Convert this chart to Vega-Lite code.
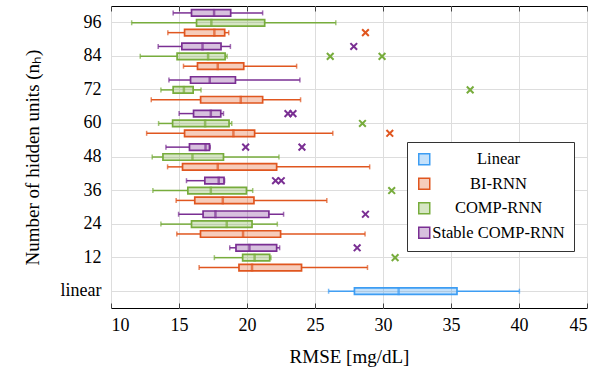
{
  "$schema": "https://vega.github.io/schema/vega-lite/v6.json",
  "autosize": "none",
  "width": 476,
  "height": 302,
  "padding": {"left": 111, "top": 6, "right": 28, "bottom": 67},
  "background": "white",
  "config": {
    "view": {"stroke": "black", "strokeWidth": 1},
    "font": "Liberation Serif",
    "axis": {"labelFont": "Liberation Serif", "titleFont": "Liberation Serif", "labelFontSize": 18, "titleFontSize": 19, "titleFontWeight": "normal", "labelColor": "black", "titleColor": "black", "gridColor": "#dddddd", "gridWidth": 1},
    "legend": {"labelFont": "Liberation Serif", "labelFontSize": 16.5, "labelColor": "black"}
  },
  "datasets": {
    "boxes": [
      {"cat": "96", "model": "Stable COMP-RNN", "slot": "a", "min": 14.57, "q1": 15.92, "median": 17.58, "q3": 18.80, "max": 21.15},
      {"cat": "96", "model": "COMP-RNN", "slot": "b", "min": 11.52, "q1": 16.29, "median": 17.38, "q3": 21.30, "max": 26.53},
      {"cat": "96", "model": "BI-RNN", "slot": "c", "min": 14.18, "q1": 15.41, "median": 17.6, "q3": 18.36, "max": 18.66},
      {"cat": "84", "model": "Stable COMP-RNN", "slot": "a", "min": 13.47, "q1": 15.21, "median": 16.73, "q3": 18.09, "max": 18.78},
      {"cat": "84", "model": "COMP-RNN", "slot": "b", "min": 12.15, "q1": 14.86, "median": 17.14, "q3": 18.39, "max": 18.54},
      {"cat": "84", "model": "BI-RNN", "slot": "c", "min": 15.33, "q1": 16.36, "median": 17.85, "q3": 19.76, "max": 23.65},
      {"cat": "72", "model": "Stable COMP-RNN", "slot": "a", "min": 14.26, "q1": 15.85, "median": 17.26, "q3": 19.15, "max": 23.89},
      {"cat": "72", "model": "COMP-RNN", "slot": "b", "min": 13.67, "q1": 14.57, "median": 15.36, "q3": 16.04, "max": 16.62},
      {"cat": "72", "model": "BI-RNN", "slot": "c", "min": 12.96, "q1": 16.59, "median": 19.54, "q3": 21.15, "max": 23.94},
      {"cat": "60", "model": "Stable COMP-RNN", "slot": "a", "min": 15.01, "q1": 16.07, "median": 17.34, "q3": 18.07, "max": 18.27},
      {"cat": "60", "model": "COMP-RNN", "slot": "b", "min": 13.50, "q1": 14.53, "median": 16.92, "q3": 18.68, "max": 18.88},
      {"cat": "60", "model": "BI-RNN", "slot": "c", "min": 12.62, "q1": 15.41, "median": 19.00, "q3": 20.56, "max": 26.31},
      {"cat": "48", "model": "Stable COMP-RNN", "slot": "a", "min": 14.04, "q1": 15.77, "median": 16.95, "q3": 17.24, "max": 17.30},
      {"cat": "48", "model": "COMP-RNN", "slot": "b", "min": 13.03, "q1": 13.82, "median": 15.99, "q3": 18.27, "max": 22.35},
      {"cat": "48", "model": "BI-RNN", "slot": "c", "min": 14.16, "q1": 15.26, "median": 17.85, "q3": 22.18, "max": 29.02},
      {"cat": "36", "model": "Stable COMP-RNN", "slot": "a", "min": 15.55, "q1": 16.90, "median": 17.92, "q3": 18.31, "max": 18.35},
      {"cat": "36", "model": "COMP-RNN", "slot": "b", "min": 13.08, "q1": 15.65, "median": 17.34, "q3": 19.96, "max": 20.42},
      {"cat": "36", "model": "BI-RNN", "slot": "c", "min": 14.79, "q1": 16.16, "median": 18.22, "q3": 20.51, "max": 25.87},
      {"cat": "24", "model": "Stable COMP-RNN", "slot": "a", "min": 14.97, "q1": 16.77, "median": 17.68, "q3": 21.61, "max": 22.69},
      {"cat": "24", "model": "COMP-RNN", "slot": "b", "min": 13.67, "q1": 15.92, "median": 18.51, "q3": 20.37, "max": 22.23},
      {"cat": "24", "model": "BI-RNN", "slot": "c", "min": 14.84, "q1": 16.58, "median": 19.71, "q3": 22.47, "max": 28.68},
      {"cat": "12", "model": "Stable COMP-RNN", "slot": "a", "min": 18.73, "q1": 19.19, "median": 20.18, "q3": 22.18, "max": 22.40},
      {"cat": "12", "model": "COMP-RNN", "slot": "b", "min": 17.60, "q1": 19.68, "median": 20.56, "q3": 21.67, "max": 21.76},
      {"cat": "12", "model": "BI-RNN", "slot": "c", "min": 16.48, "q1": 19.41, "median": 20.37, "q3": 24.01, "max": 28.86},
      {"cat": "linear", "model": "Linear", "slot": "b", "min": 26.0, "q1": 27.90, "median": 31.15, "q3": 35.44, "max": 40.03}
    ],
    "outliers": [
      {"cat": "96", "model": "BI-RNN", "slot": "c", "value": 28.71},
      {"cat": "84", "model": "Stable COMP-RNN", "slot": "a", "value": 27.85},
      {"cat": "84", "model": "COMP-RNN", "slot": "b", "value": 26.12},
      {"cat": "84", "model": "COMP-RNN", "slot": "b", "value": 29.93},
      {"cat": "72", "model": "COMP-RNN", "slot": "b", "value": 36.41},
      {"cat": "60", "model": "Stable COMP-RNN", "slot": "a", "value": 23.01},
      {"cat": "60", "model": "Stable COMP-RNN", "slot": "a", "value": 23.38},
      {"cat": "60", "model": "COMP-RNN", "slot": "b", "value": 28.49},
      {"cat": "60", "model": "BI-RNN", "slot": "c", "value": 30.50},
      {"cat": "48", "model": "Stable COMP-RNN", "slot": "a", "value": 19.90},
      {"cat": "48", "model": "Stable COMP-RNN", "slot": "a", "value": 24.04},
      {"cat": "36", "model": "Stable COMP-RNN", "slot": "a", "value": 22.10},
      {"cat": "36", "model": "Stable COMP-RNN", "slot": "a", "value": 22.52},
      {"cat": "36", "model": "COMP-RNN", "slot": "b", "value": 30.64},
      {"cat": "24", "model": "Stable COMP-RNN", "slot": "a", "value": 28.71},
      {"cat": "12", "model": "Stable COMP-RNN", "slot": "a", "value": 28.10},
      {"cat": "12", "model": "COMP-RNN", "slot": "b", "value": 30.89}
    ]
  },
  "encoding": {
    "y": {
      "field": "cat", "type": "nominal",
      "scale": {"domain": ["96", "84", "72", "60", "48", "36", "24", "12", "linear"], "paddingInner": 0, "paddingOuter": 0},
      "axis": {"title": "Number of hidden units (nₕ)", "ticks": false, "domain": false, "grid": true, "bandPosition": 0.5, "labelPadding": 10, "titlePadding": 18}
    },
    "yOffset": {
      "field": "slot", "type": "nominal",
      "scale": {"domain": ["a", "b", "c"], "paddingOuter": 0.2, "paddingInner": 0}
    },
    "color": {
      "field": "model", "type": "nominal",
      "scale": {"domain": ["Linear", "BI-RNN", "COMP-RNN", "Stable COMP-RNN"], "range": ["#3d9df3", "#e0561f", "#77ac3c", "#7a2f93"]},
      "legend": {
        "title": null, "orient": "none", "legendX": 296, "legendY": 136,
        "symbolType": "square", "symbolSize": 121, "strokeColor": "#333333", "fillColor": "white",
        "padding": 9, "rowPadding": 6.5, "labelAlign": "center", "labelOffset": 66, "labelFontSize": 16.5,
        "encode": {"symbols": {"update": {
          "fill": {"scale": "color", "field": "value"},
          "fillOpacity": {"value": 0.3},
          "stroke": {"scale": "color", "field": "value"},
          "strokeWidth": {"value": 1.5},
          "shape": {"value": "square"},
          "size": {"value": 121},
          "opacity": {"value": 1}
        }}}
      }
    }
  },
  "layer": [
    {
      "data": {"name": "boxes"},
      "mark": {"type": "rule", "strokeWidth": 1.5},
      "encoding": {
        "x": {"field": "min", "type": "quantitative", "scale": {"domain": [10, 45], "nice": false},
              "axis": {"orient": "bottom", "values": [10, 15, 20, 25, 30, 35, 40, 45], "title": "RMSE [mg/dL]", "grid": true, "domain": false, "tickSize": -5, "tickColor": "#444444", "labelPadding": 13, "titlePadding": 13}},
        "x2": {"field": "q1"}
      }
    },
    {
      "data": {"name": "boxes"},
      "mark": {"type": "rule", "strokeWidth": 1.5},
      "encoding": {
        "x": {"field": "q3", "type": "quantitative", "axis": null},
        "x2": {"field": "max"}
      }
    },
    {
      "data": {"name": "boxes"},
      "mark": {"type": "tick", "thickness": 1.5, "size": 5},
      "encoding": {
        "x": {"field": "min", "type": "quantitative", "axis": null}
      }
    },
    {
      "data": {"name": "boxes"},
      "mark": {"type": "tick", "thickness": 1.5, "size": 5},
      "encoding": {
        "x": {"field": "max", "type": "quantitative", "axis": null}
      }
    },
    {
      "data": {"name": "boxes"},
      "mark": {"type": "bar", "fillOpacity": 0.3, "size": 6.5},
      "encoding": {
        "x": {"field": "q1", "type": "quantitative", "axis": null},
        "x2": {"field": "q3"}
      }
    },
    {
      "data": {"name": "boxes"},
      "mark": {"type": "bar", "filled": false, "strokeWidth": 1.7, "size": 6.5},
      "encoding": {
        "x": {"field": "q1", "type": "quantitative",
              "axis": {"orient": "top", "values": [10, 15, 20, 25, 30, 35, 40, 45], "labels": false, "grid": false, "domain": false, "tickSize": -5, "tickColor": "#444444", "title": null}},
        "x2": {"field": "q3"}
      }
    },
    {
      "data": {"name": "boxes"},
      "mark": {"type": "tick", "thickness": 2.5, "size": 8},
      "encoding": {
        "x": {"field": "median", "type": "quantitative", "axis": null}
      }
    },
    {
      "data": {"name": "outliers"},
      "mark": {"type": "point", "shape": "M-1,-1L1,1M-1,1L1,-1", "filled": false, "strokeWidth": 2, "size": 45, "opacity": 1},
      "encoding": {
        "x": {"field": "value", "type": "quantitative", "axis": null}
      }
    }
  ],
  "resolve": {"axis": {"x": "independent"}}
}
